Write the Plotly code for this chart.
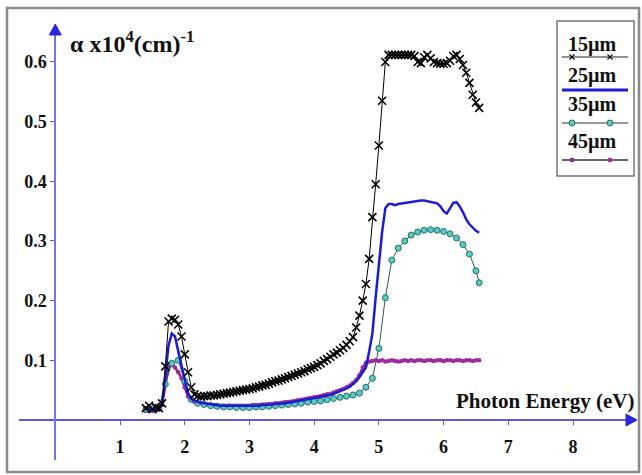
import plotly.graph_objects as go

# ---------------- data ----------------
energy_ev = [
    1.40, 1.45, 1.50, 1.55, 1.60, 1.65, 1.70, 1.75, 1.80, 1.85,
    1.90, 1.95, 2.00, 2.05, 2.10, 2.15, 2.20, 2.25, 2.30, 2.35,
    2.40, 2.45, 2.50, 2.55, 2.60, 2.65, 2.70, 2.75, 2.80, 2.85,
    2.90, 2.95, 3.00, 3.05, 3.10, 3.15, 3.20, 3.25, 3.30, 3.35,
    3.40, 3.45, 3.50, 3.55, 3.60, 3.65, 3.70, 3.75, 3.80, 3.85,
    3.90, 3.95, 4.00, 4.05, 4.10, 4.15, 4.20, 4.25, 4.30, 4.35,
    4.40, 4.45, 4.50, 4.55, 4.60, 4.65, 4.70, 4.75, 4.80, 4.85,
    4.90, 4.95, 5.00, 5.05, 5.10, 5.15, 5.20, 5.25, 5.30, 5.35,
    5.40, 5.45, 5.50, 5.55, 5.60, 5.65, 5.70, 5.75, 5.80, 5.85,
    5.90, 5.95, 6.00, 6.05, 6.10, 6.15, 6.20, 6.25, 6.30, 6.35,
    6.40, 6.45, 6.50, 6.55,
]

alpha_15um = [
    0.020, 0.024, 0.018, 0.022, 0.020, 0.028, 0.090, 0.165, 0.170, 0.168,
    0.160, 0.140, 0.110, 0.080, 0.055, 0.043, 0.040, 0.039, 0.040, 0.040,
    0.041, 0.041, 0.042, 0.043, 0.044, 0.045, 0.046, 0.047, 0.048, 0.049,
    0.050, 0.051, 0.052, 0.053, 0.055, 0.056, 0.058, 0.059, 0.061, 0.063,
    0.065, 0.066, 0.068, 0.070, 0.072, 0.074, 0.076, 0.078, 0.080, 0.082,
    0.085, 0.087, 0.089, 0.092, 0.095, 0.099, 0.102, 0.106, 0.110, 0.113,
    0.117, 0.121, 0.126, 0.132, 0.139, 0.155, 0.175, 0.200, 0.228, 0.270,
    0.340, 0.395, 0.460, 0.535, 0.600, 0.612, 0.612, 0.612, 0.612, 0.612,
    0.612, 0.612, 0.612, 0.610, 0.600, 0.598, 0.608, 0.612, 0.606, 0.600,
    0.598, 0.597, 0.597, 0.598, 0.602, 0.610, 0.612, 0.605, 0.595, 0.582,
    0.565, 0.545, 0.532, 0.523,
]

alpha_25um = [
    0.018, 0.019, 0.018, 0.019, 0.020, 0.025, 0.070, 0.125, 0.145, 0.140,
    0.115, 0.090, 0.068, 0.045, 0.035, 0.032, 0.030, 0.029, 0.028, 0.027,
    0.026, 0.025, 0.025, 0.024, 0.024, 0.024, 0.023, 0.023, 0.023, 0.023,
    0.023, 0.023, 0.023, 0.024, 0.024, 0.024, 0.025, 0.025, 0.026, 0.026,
    0.027, 0.027, 0.028, 0.028, 0.029, 0.030, 0.031, 0.031, 0.032, 0.033,
    0.034, 0.035, 0.036, 0.037, 0.038, 0.040, 0.041, 0.042, 0.044, 0.046,
    0.048, 0.050, 0.053, 0.056, 0.060, 0.065, 0.072, 0.080, 0.088, 0.115,
    0.145, 0.205, 0.265, 0.315, 0.355, 0.362, 0.362, 0.360, 0.362, 0.363,
    0.364, 0.365, 0.365, 0.366, 0.367, 0.368, 0.368, 0.367, 0.366, 0.365,
    0.363, 0.358, 0.350, 0.346, 0.355, 0.364, 0.365, 0.358, 0.348, 0.336,
    0.328, 0.322, 0.317, 0.314,
]

alpha_45um = [
    0.015, 0.016, 0.015, 0.016, 0.017, 0.025, 0.060, 0.090, 0.092, 0.088,
    0.080, 0.070, 0.055, 0.040, 0.033, 0.030, 0.029, 0.028, 0.027, 0.026,
    0.026, 0.025, 0.025, 0.024, 0.024, 0.024, 0.024, 0.024, 0.024, 0.024,
    0.024, 0.024, 0.024, 0.025, 0.025, 0.025, 0.026, 0.026, 0.027, 0.027,
    0.028, 0.028, 0.029, 0.030, 0.030, 0.031, 0.032, 0.033, 0.034, 0.035,
    0.036, 0.037, 0.038, 0.039, 0.040, 0.042, 0.043, 0.044, 0.046, 0.048,
    0.050, 0.052, 0.055, 0.058, 0.062, 0.067, 0.075, 0.088, 0.096, 0.098,
    0.099, 0.100, 0.099, 0.100, 0.098, 0.099, 0.100, 0.099, 0.098, 0.099,
    0.100, 0.099, 0.100, 0.099, 0.100, 0.100, 0.099, 0.100, 0.100, 0.099,
    0.100, 0.100, 0.099, 0.100, 0.100, 0.099, 0.100, 0.100, 0.099, 0.100,
    0.100, 0.099, 0.100, 0.100,
]

energy_35um = [
    1.4, 1.5, 1.6, 1.7, 1.8, 1.9, 2.0, 2.1, 2.2, 2.3,
    2.4, 2.5, 2.6, 2.7, 2.8, 2.9, 3.0, 3.1, 3.2, 3.3,
    3.4, 3.5, 3.6, 3.7, 3.8, 3.9, 4.0, 4.1, 4.2, 4.3,
    4.4, 4.5, 4.6, 4.7, 4.8, 4.9, 5.0, 5.1, 5.2, 5.3,
    5.4, 5.5, 5.6, 5.7, 5.8, 5.9, 6.0, 6.1, 6.2, 6.3,
    6.4, 6.5, 6.55,
]
alpha_35um = [
    0.018, 0.019, 0.020, 0.060, 0.095, 0.100, 0.065, 0.035, 0.028, 0.026,
    0.024, 0.023, 0.022, 0.022, 0.021, 0.021, 0.021, 0.022, 0.022, 0.023,
    0.024, 0.025, 0.026, 0.027, 0.028, 0.030, 0.031, 0.032, 0.034, 0.036,
    0.038, 0.040, 0.042, 0.045, 0.055, 0.070, 0.120, 0.205, 0.268, 0.288,
    0.300, 0.310, 0.315, 0.318, 0.319, 0.318, 0.316, 0.312, 0.305, 0.294,
    0.278, 0.250, 0.230,
]

x_ticks = [1, 2, 3, 4, 5, 6, 7, 8]
y_ticks = [0.1, 0.2, 0.3, 0.4, 0.5, 0.6]
y_tick_labels = ["0.1", "0.2", "0.3", "0.4", "0.5", "0.6"]
legend_labels = ["15µm", "25µm", "35µm", "45µm"]

# ---------------- layout geometry ----------------
W, H = 642, 475
ML, MR, MT, MB = 19, 7, 27, 15
PW, PH = W - ML - MR, H - MT - MB
X_RANGE = [-0.561, 8.958]
Y_RANGE = [-0.067, 0.6586]
x_axis_pos = (0 - Y_RANGE[0]) / (Y_RANGE[1] - Y_RANGE[0])
y_axis_pos = (0 - X_RANGE[0]) / (X_RANGE[1] - X_RANGE[0])


def px(xp):
    return (xp - ML) / PW


def py(yp):
    return (H - MB - yp) / PH


AXIS_BLUE = "#5a5ae2"
ARROW_BLUE = "#2828d8"
SERIF = "Liberation Serif"

fig = go.Figure()

fig.add_trace(go.Scatter(
    x=energy_ev, y=alpha_45um, mode="lines+markers", name=legend_labels[3],
    line=dict(color="#861a86", width=2.5),
    marker=dict(symbol="circle", size=4.5, color="#a02aa0"),
))
fig.add_trace(go.Scatter(
    x=energy_35um, y=alpha_35um, mode="lines+markers", name=legend_labels[2],
    line=dict(color="#2e5c5c", width=1),
    marker=dict(symbol="circle", size=6, color="#5ccac0",
                line=dict(color="#23706e", width=1)),
))
fig.add_trace(go.Scatter(
    x=energy_ev, y=alpha_25um, mode="lines", name=legend_labels[1],
    line=dict(color="#1c1cd2", width=2.5),
))
fig.add_trace(go.Scatter(
    x=energy_ev, y=alpha_15um, mode="lines+markers", name=legend_labels[0],
    line=dict(color="black", width=1),
    marker=dict(symbol="x-thin", size=8, line=dict(color="black", width=1.6)),
))

tick_font = dict(family=SERIF, size=18, color="#111", weight="bold")
fig.update_layout(
    width=W, height=H,
    margin=dict(l=ML, r=MR, t=MT, b=MB),
    paper_bgcolor="white", plot_bgcolor="white",
    showlegend=False,
    xaxis=dict(
        range=X_RANGE, anchor="free", position=x_axis_pos,
        showline=True, linecolor=AXIS_BLUE, linewidth=2,
        ticks="outside", ticklen=4, tickwidth=1, tickcolor=AXIS_BLUE,
        tickvals=x_ticks, tickfont=tick_font, ticklabelstandoff=6,
        showgrid=False, zeroline=False,
    ),
    yaxis=dict(
        range=Y_RANGE, anchor="free", position=y_axis_pos,
        showline=True, linecolor="#7474ee", linewidth=2,
        ticks="outside", ticklen=4, tickwidth=1, tickcolor=AXIS_BLUE,
        tickvals=y_ticks, ticktext=y_tick_labels, tickfont=tick_font,
        showgrid=False, zeroline=False,
    ),
)

# axis arrowheads (filled triangles, paper coordinates)
ya_x = ML + y_axis_pos * PW
xa_y = H - MB - x_axis_pos * PH
fig.add_shape(type="path", xref="paper", yref="paper",
              path=(f"M {px(ya_x - 6)} {py(35)} "
                    f"L {px(ya_x)} {py(24)} "
                    f"L {px(ya_x + 6)} {py(35)} Z"),
              fillcolor=ARROW_BLUE, line=dict(color=ARROW_BLUE, width=1),
              layer="above")
fig.add_shape(type="path", xref="paper", yref="paper",
              path=(f"M {px(626)} {py(xa_y - 6)} "
                    f"L {px(637)} {py(xa_y)} "
                    f"L {px(626)} {py(xa_y + 6)} Z"),
              fillcolor=ARROW_BLUE, line=dict(color=ARROW_BLUE, width=1),
              layer="above")

# axis titles
fig.add_annotation(x=px(68), y=py(42), xref="paper", yref="paper",
                   xanchor="left", yanchor="middle", showarrow=False,
                   text="α x10<sup>4</sup>(cm)<sup>-1</sup>",
                   font=dict(family=SERIF, size=24, color="#111", weight="bold"))
fig.add_annotation(x=px(636), y=py(401), xref="paper", yref="paper",
                   xanchor="right", yanchor="middle", showarrow=False,
                   text="Photon Energy (eV)",
                   font=dict(family=SERIF, size=21, color="#111", weight="bold"))

# outer frame
fig.add_shape(type="rect", xref="paper", yref="paper",
              x0=px(7), x1=px(639), y0=py(472), y1=py(8),
              line=dict(color="#8a8a8a", width=2.5), layer="above")

# custom legend
fig.add_shape(type="rect", xref="paper", yref="paper",
              x0=px(557), x1=px(634), y0=py(176), y1=py(21),
              line=dict(color="#777", width=1.5), fillcolor="white", layer="above")
text_y = [45, 75, 104, 141]
line_y = [57, 90, 123, 160]
line_colors = ["#222", "#1c1cd2", "#777", "#333"]
line_widths = [1, 3, 1.5, 1.5]
for lab, ty, ly, lc, lw in zip(legend_labels, text_y, line_y, line_colors, line_widths):
    fig.add_annotation(x=px(592), y=py(ty), xref="paper", yref="paper",
                       xanchor="center", yanchor="middle", showarrow=False,
                       text=lab,
                       font=dict(family=SERIF, size=20, color="#111", weight="bold"))
    fig.add_shape(type="line", xref="paper", yref="paper",
                  x0=px(562), x1=px(628), y0=py(ly), y1=py(ly),
                  line=dict(color=lc, width=lw), layer="above")

# legend sample markers
for mx in (572, 610):
    for d in (1, -1):
        fig.add_shape(type="line", xref="paper", yref="paper",
                      x0=px(mx - 2.5), x1=px(mx + 2.5),
                      y0=py(line_y[0] - 2.5 * d), y1=py(line_y[0] + 2.5 * d),
                      line=dict(color="#111", width=1.2), layer="above")
    fig.add_shape(type="circle", xref="paper", yref="paper",
                  x0=px(mx - 3), x1=px(mx + 3),
                  y0=py(line_y[2] + 3), y1=py(line_y[2] - 3),
                  line=dict(color="#23706e", width=1), fillcolor="#5ccac0",
                  layer="above")
    fig.add_shape(type="circle", xref="paper", yref="paper",
                  x0=px(mx - 2), x1=px(mx + 2),
                  y0=py(line_y[3] + 2), y1=py(line_y[3] - 2),
                  line=dict(color="#a02aa0", width=1), fillcolor="#a02aa0",
                  layer="above")

fig.write_html(
    "out.html",
    config={"displayModeBar": False},
    post_script="document.body.style.margin='0';document.body.style.overflow='hidden';",
)
